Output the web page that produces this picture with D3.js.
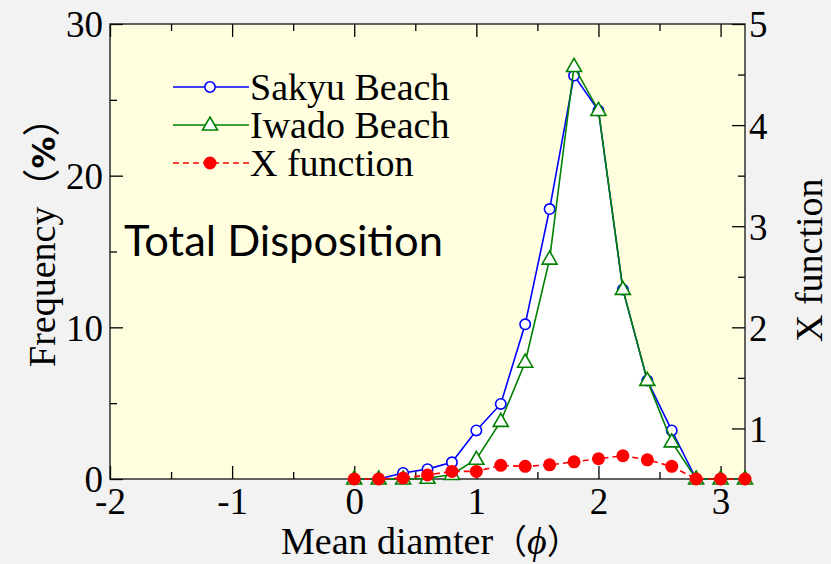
<!DOCTYPE html>
<meta charset="utf-8">
<head>
<style>
body { margin: 0; background: #f2f2f2; }
svg { display: block; }
.axis text { font-family: "Liberation Serif", serif; font-size: 37px; fill: #000; }
.axis line { stroke: #000; stroke-width: 1.3px; }
.axis path { display: none; }
.lbl { font-family: "Liberation Serif", serif; font-size: 38px; fill: #000; }
</style>
<script src="https://d3js.org/d3.v7.min.js"></script>
</head>
<body>
<svg id="plot" width="831" height="564"></svg>
<script>

// mean diameter (phi) classes
var phi = [0, 0.2, 0.4, 0.6, 0.8, 1.0, 1.2, 1.4, 1.6, 1.8, 2.0, 2.2, 2.4, 2.6, 2.8, 3.0, 3.2];

// frequency (%)
var sakyu = [0, 0, 0.4, 0.65, 1.1, 3.2, 4.95, 10.2, 17.8, 26.6, 24.3, 12.5, 6.5, 3.2, 0, 0, 0];
var iwado = [0, 0, 0, 0.05, 0.3, 1.3, 3.8, 7.7, 14.5, 27.2, 24.3, 12.5, 6.5, 2.45, 0, 0, 0];

// X function (right axis)
var xfunc = [0.5, 0.5, 0.51, 0.54, 0.575, 0.575, 0.635, 0.625, 0.64, 0.67, 0.70, 0.73, 0.69, 0.625, 0.5, 0.5, 0.5];

var xTicks = [-2, -1, 0, 1, 2, 3];
var xMinor = [-1.5, -0.5, 0.5, 1.5, 2.5];
var yTicks = [0, 10, 20, 30];
var yMinor = [5, 15, 25];
var y2Ticks = [1, 2, 3, 4, 5];
var y2Minor = [1.5, 2.5, 3.5, 4.5];

var legendNames = ["Sakyu Beach", "Iwado Beach", "X function"];

var svg = d3.select("svg"),
    margin = {top: 24, right: 86, bottom: 85, left: 110},
    width = +svg.attr("width") - margin.left - margin.right,
    height = +svg.attr("height") - margin.top - margin.bottom;

var x = d3.scaleLinear().domain([-2, 3.2]).range([0, width]);
var y = d3.scaleLinear().domain([0, 30]).range([height, 0]);
var y2 = d3.scaleLinear().domain([0.5, 5]).range([height, 0]);

var plain = function(d) { return String(d); };  // keep hyphen minus like "-2"

var g = svg.append("g")
    .attr("transform", "translate(" + margin.left + "," + margin.top + ")");

// plot background
g.append("rect")
    .attr("width", width)
    .attr("height", height)
    .attr("fill", "#ffffe0");

// white area under the two beach curves
var area = d3.area()
    .x(function(d, i) { return x(phi[i]); })
    .y0(height)
    .y1(function(d) { return y(d); });

g.append("path").datum(sakyu).attr("d", area).attr("fill", "#fff");
g.append("path").datum(iwado).attr("d", area).attr("fill", "#fff");

// axes, ticks pointing inward
g.append("g").attr("class", "axis")
    .attr("transform", "translate(0," + height + ")")
    .call(d3.axisBottom(x).tickValues(xTicks).tickSize(-13).tickPadding(9).tickFormat(plain));
g.append("g").attr("class", "axis")
    .attr("transform", "translate(0," + height + ")")
    .call(d3.axisBottom(x).tickValues(xMinor).tickSize(-7).tickFormat(""));
g.append("g").attr("class", "axis")
    .call(d3.axisTop(x).tickValues(xTicks).tickSize(-13).tickFormat(""));
g.append("g").attr("class", "axis")
    .call(d3.axisTop(x).tickValues(xMinor).tickSize(-7).tickFormat(""));

g.append("g").attr("class", "axis")
    .call(d3.axisLeft(y).tickValues(yTicks).tickSize(-13).tickPadding(7).tickFormat(plain));
g.append("g").attr("class", "axis")
    .call(d3.axisLeft(y).tickValues(yMinor).tickSize(-7).tickFormat(""));

g.append("g").attr("class", "axis")
    .attr("transform", "translate(" + width + ",0)")
    .call(d3.axisRight(y2).tickValues(y2Ticks).tickSize(-13).tickPadding(4).tickFormat(plain));
g.append("g").attr("class", "axis")
    .attr("transform", "translate(" + width + ",0)")
    .call(d3.axisRight(y2).tickValues(y2Minor).tickSize(-7).tickFormat(""));

g.selectAll(".axis text").attr("dy", function() {
  return d3.select(this).attr("dy") === "0.71em" ? "0.71em" : "0.35em";
});

// frame
g.append("rect")
    .attr("width", width)
    .attr("height", height)
    .attr("fill", "none")
    .attr("stroke", "#111")
    .attr("stroke-width", 1.3);

var tri = "M0,-8L7.5,5L-7.5,5Z";

var lineY = d3.line()
    .x(function(d, i) { return x(phi[i]); })
    .y(function(d) { return y(d); });
var lineY2 = d3.line()
    .x(function(d, i) { return x(phi[i]); })
    .y(function(d) { return y2(d); });

// Sakyu Beach
g.append("path").datum(sakyu).attr("d", lineY)
    .attr("fill", "none").attr("stroke", "#0000ff").attr("stroke-width", 1.6);
g.selectAll(".sak").data(sakyu).enter().append("circle")
    .attr("class", "sak")
    .attr("cx", function(d, i) { return x(phi[i]); })
    .attr("cy", function(d) { return y(d); })
    .attr("r", 5.2)
    .attr("fill", "#fff").attr("stroke", "#0000ff").attr("stroke-width", 1.6);

// Iwado Beach
g.append("path").datum(iwado).attr("d", lineY)
    .attr("fill", "none").attr("stroke", "#008000").attr("stroke-width", 1.6);
g.selectAll(".iwa").data(iwado).enter().append("path")
    .attr("class", "iwa")
    .attr("transform", function(d, i) { return "translate(" + x(phi[i]) + "," + y(d) + ")"; })
    .attr("d", tri)
    .attr("fill", "#fff").attr("stroke", "#008000").attr("stroke-width", 1.6);

// X function
g.append("path").datum(xfunc).attr("d", lineY2)
    .attr("fill", "none").attr("stroke", "#ff0000").attr("stroke-width", 1.6)
    .attr("stroke-dasharray", "6,4");
g.selectAll(".xf").data(xfunc).enter().append("circle")
    .attr("class", "xf")
    .attr("cx", function(d, i) { return x(phi[i]); })
    .attr("cy", function(d) { return y2(d); })
    .attr("r", 6.5)
    .attr("fill", "#ff0000");

// legend
var leg = svg.append("g").attr("transform", "translate(173,87)");
var legStyle = [
  {stroke: "#0000ff", dash: null},
  {stroke: "#008000", dash: null},
  {stroke: "#ff0000", dash: "6,4"}
];
legendNames.forEach(function(name, i) {
  var row = leg.append("g").attr("transform", "translate(0," + (i * 38) + ")");
  row.append("line").attr("x1", 0).attr("x2", 76)
      .attr("stroke", legStyle[i].stroke).attr("stroke-width", 1.6)
      .attr("stroke-dasharray", legStyle[i].dash);
  if (i === 0) {
    row.append("circle").attr("cx", 37).attr("r", 5.2)
        .attr("fill", "#fff").attr("stroke", "#0000ff").attr("stroke-width", 1.6);
  } else if (i === 1) {
    row.append("path").attr("transform", "translate(37,0)").attr("d", tri)
        .attr("fill", "#fff").attr("stroke", "#008000").attr("stroke-width", 1.6);
  } else {
    row.append("circle").attr("cx", 37).attr("r", 6.5).attr("fill", "#ff0000");
  }
  row.append("text").attr("class", "lbl").attr("x", 77).attr("dy", "0.35em").text(name);
});

// inner title
svg.append("text")
    .attr("x", 124).attr("y", 256)
    .attr("textLength", 319).attr("lengthAdjust", "spacingAndGlyphs")
    .style("font-family", "Lato, 'Noto Sans', sans-serif")
    .style("font-size", "42px")
    .text("Total Disposition");

// axis titles
var yl = svg.append("text").attr("class", "lbl")
    .attr("transform", "translate(55,367) rotate(-90)");
yl.append("tspan").text("Frequency");
yl.append("tspan").style("font-family", "'Noto Sans CJK JP', sans-serif").text("（");
yl.append("tspan").style("font-family", "'DejaVu Sans', sans-serif").style("font-weight", "bold")
    .style("font-size", "32px").text("%");
yl.append("tspan").style("font-family", "'Noto Sans CJK JP', sans-serif").text("）");

var xl = svg.append("text").attr("class", "lbl").attr("x", 281).attr("y", 554);
xl.append("tspan").text("Mean diamter");
xl.append("tspan").style("font-family", "'Noto Sans CJK JP', sans-serif").style("font-size", "34px").text("（");
xl.append("tspan").style("font-style", "italic").text("ϕ");
xl.append("tspan").style("font-family", "'Noto Sans CJK JP', sans-serif").style("font-size", "34px").text("）");

svg.append("text").attr("class", "lbl")
    .attr("transform", "translate(822,342) rotate(-90)")
    .text("X function");

</script>
</body>
